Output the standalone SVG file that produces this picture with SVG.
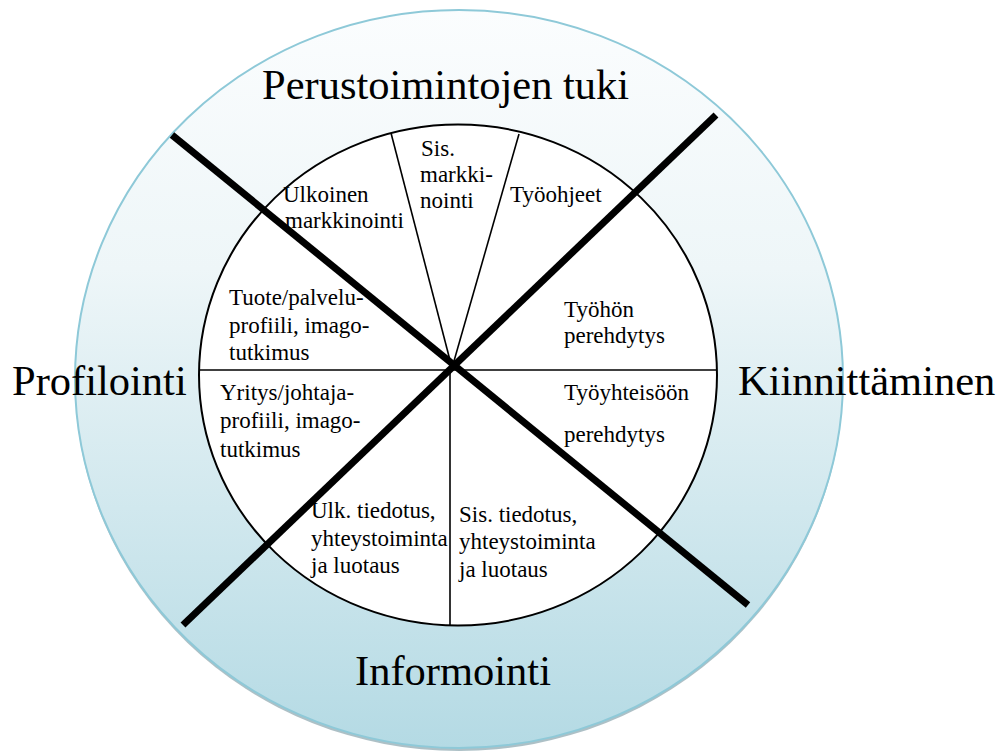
<svg xmlns="http://www.w3.org/2000/svg" width="1000" height="751" viewBox="0 0 1000 751">
<defs>
<linearGradient id="ring" x1="0" y1="0" x2="0" y2="1">
<stop offset="0" stop-color="#fbfdfe"/>
<stop offset="0.35" stop-color="#eef6f8"/>
<stop offset="1" stop-color="#b4dae4"/>
</linearGradient>
<style>
text{font-family:"Liberation Serif","Times New Roman",Times,serif;fill:#000}
.big{font-size:42.5px}
.sm{font-size:23px}
.thick{stroke:#000;stroke-width:7;fill:none}
.thin{stroke:#000;stroke-width:1.6;fill:none}
</style>
</defs>
<rect width="1000" height="751" fill="#fff"/>
<g id="outer-ring">
<ellipse cx="459" cy="382" rx="384" ry="369" fill="#98b0b8" opacity="0.8"/>
<ellipse cx="459" cy="379" rx="384" ry="369" fill="url(#ring)" stroke="#8ec9d8" stroke-width="2"/>
</g>
<g id="inner-circle">
<ellipse cx="458" cy="375" rx="259" ry="250.5" fill="#fff" stroke="#000" stroke-width="2"/>
</g>
<g id="connectors">
<line class="thin" x1="199" y1="370" x2="717" y2="370"/>
<line class="thin" x1="450" y1="370" x2="450" y2="625"/>
<line class="thin" x1="391" y1="133" x2="452" y2="368"/>
<line class="thin" x1="519" y1="134" x2="452" y2="368"/>
<line class="thick" x1="172" y1="135" x2="748" y2="605"/>
<line class="thick" x1="716" y1="115" x2="183" y2="625"/>
</g>
<g font-family="Liberation Serif, serif">
<g id="label-top"><text class="big" x="262" y="99">Perustoimintojen tuki</text></g>
<g id="label-left"><text class="big" x="12" y="395">Profilointi</text></g>
<g id="label-right"><text class="big" x="738" y="395">Kiinnittäminen</text></g>
<g id="label-bottom"><text class="big" x="355" y="685">Informointi</text></g>
<g id="seg-ulkoinen"><text class="sm" x="283" y="202">Ulkoinen</text><text class="sm" x="285" y="228">markkinointi</text></g>
<g id="seg-sis-mark"><text class="sm" x="421" y="156">Sis.</text><text class="sm" x="420" y="182">markki-</text><text class="sm" x="420" y="208">nointi</text></g>
<g id="seg-tyoohjeet"><text class="sm" x="510" y="202">Työohjeet</text></g>
<g id="seg-tuote"><text class="sm" x="229" y="305">Tuote/palvelu-</text><text class="sm" x="229" y="333">profiili, imago-</text><text class="sm" x="229" y="360">tutkimus</text></g>
<g id="seg-yritys"><text class="sm" x="220" y="400">Yritys/johtaja-</text><text class="sm" x="220" y="428">profiili, imago-</text><text class="sm" x="220" y="457">tutkimus</text></g>
<g id="seg-tyohon"><text class="sm" x="564" y="317">Työhön</text><text class="sm" x="564" y="343">perehdytys</text></g>
<g id="seg-tyoyhteiso"><text class="sm" x="564" y="400">Työyhteisöön</text><text class="sm" x="564" y="442">perehdytys</text></g>
<g id="seg-ulk-tiedotus"><text class="sm" x="311" y="518">Ulk. tiedotus,</text><text class="sm" x="311" y="546">yhteystoiminta</text><text class="sm" x="311" y="573">ja luotaus</text></g>
<g id="seg-sis-tiedotus"><text class="sm" x="459" y="522">Sis. tiedotus,</text><text class="sm" x="459" y="549">yhteystoiminta</text><text class="sm" x="459" y="577">ja luotaus</text></g>
</g>
</svg>
